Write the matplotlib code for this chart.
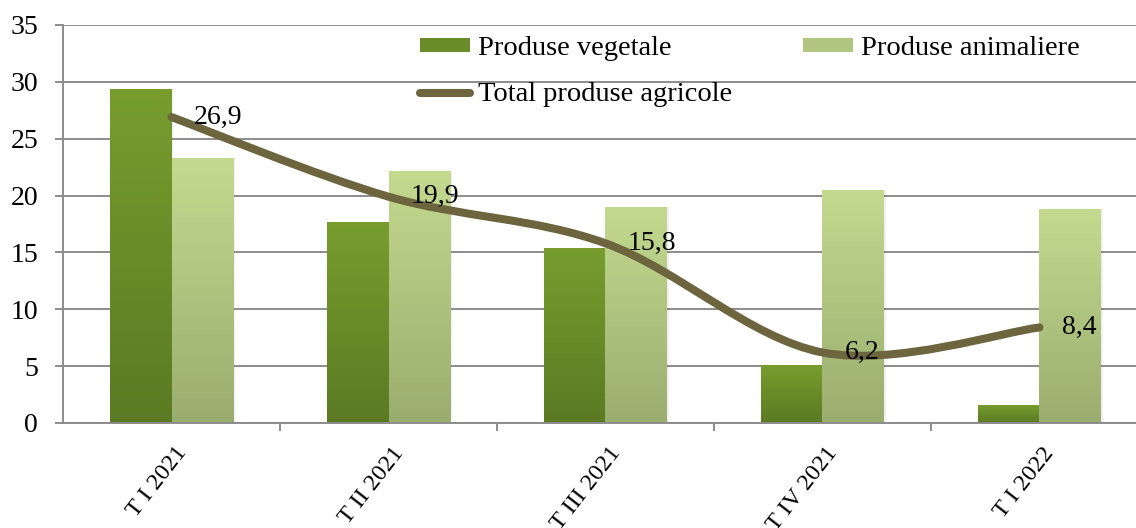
import numpy as np
import matplotlib
matplotlib.use("Agg")
import matplotlib.pyplot as plt
from matplotlib.path import Path
from matplotlib.patches import PathPatch, Rectangle, Patch
from matplotlib.lines import Line2D
from matplotlib.colors import LinearSegmentedColormap
import matplotlib.transforms as mtransforms

# ---------------- data ----------------
categorii = ["T I 2021", "T II 2021", "T III 2021", "T IV 2021", "T I 2022"]
vegetale = [29.4, 17.7, 15.4, 5.1, 1.6]
animaliere = [23.3, 22.2, 19.0, 20.5, 18.8]
total = [26.9, 19.9, 15.8, 6.2, 8.4]
etichete_total = ["26,9", "19,9", "15,8", "6,2", "8,4"]

# ---------------- style ----------------
FONT = "Liberation Serif"
plt.rcParams["font.family"] = FONT
GRID = "#8C8C8C"
LINE = "#6D653E"
BAR_W = 0.285

cmap_veg = LinearSegmentedColormap.from_list("veg", ["#5B7A23", "#789D2E"])
cmap_anim = LinearSegmentedColormap.from_list("anim", ["#9AAD6F", "#C3DA8F"])

fig = plt.figure(figsize=(11.36, 5.28), dpi=100)
ax = fig.add_axes([0.0555, 0.1989, 0.955, 0.7538])

x = np.arange(len(categorii))

# bars with vertical gradient
def gradient_bars(xpos, values, cmap):
    bars = ax.bar(xpos, values, width=BAR_W, align="edge",
                  facecolor="none", edgecolor="none", zorder=2)
    grad = np.linspace(0, 1, 256).reshape(-1, 1)
    for b in bars:
        x0, y0 = b.get_x(), b.get_y()
        w, h = b.get_width(), b.get_height()
        # light shadow to the right
        ax.add_patch(Rectangle((x0 + 0.006, y0), w, h, facecolor="#000000",
                               alpha=0.06, edgecolor="none", zorder=1.8))
        im = ax.imshow(grad, extent=[x0, x0 + w, y0, y0 + h], origin="lower",
                       cmap=cmap, aspect="auto", zorder=2.1)
        im.set_clip_path(b)
    return bars

gradient_bars(x - BAR_W, vegetale, cmap_veg)
gradient_bars(x, animaliere, cmap_anim)

# smoothed line (bezier, like spreadsheet "smoothed line")
pts = np.column_stack([x, total]).astype(float)
verts = [tuple(pts[0])]
codes = [Path.MOVETO]
n = len(pts)
for i in range(n - 1):
    p0 = pts[max(i - 1, 0)]
    p1 = pts[i]
    p2 = pts[i + 1]
    p3 = pts[min(i + 2, n - 1)]
    c1 = p1 + (p2 - p0) / 6.0
    c2 = p2 - (p3 - p1) / 6.0
    verts += [tuple(c1), tuple(c2), tuple(p2)]
    codes += [Path.CURVE4] * 3
ax.add_patch(PathPatch(Path(verts, codes), facecolor="none", edgecolor=LINE,
                       lw=5.8, capstyle="round", joinstyle="round", zorder=3))

for xi, yi, lab in zip(x, total, etichete_total):
    ax.annotate(lab, (xi, yi), xytext=(16, 0), textcoords="offset points",
                ha="left", va="center", fontsize=20, color="black", zorder=5)

# axes
ax.set_xlim(-0.5, len(categorii) - 0.5)
ax.set_ylim(0, 35)
ax.set_yticks(range(0, 36, 5))
ax.yaxis.grid(True, color=GRID, lw=1.4, zorder=0)
ax.set_axisbelow(True)
for s in ["top", "right"]:
    ax.spines[s].set_visible(False)
for s in ["left", "bottom"]:
    ax.spines[s].set_color(GRID)
    ax.spines[s].set_linewidth(1.4)

ax.tick_params(axis="y", length=6, width=1.4, color=GRID, labelsize=20, pad=12)
ax.set_xticks(x)
ax.set_xticklabels(categorii, rotation=52, ha="right", va="center",
                   rotation_mode="anchor", fontsize=17.5)
ax.tick_params(axis="x", which="major", length=0, pad=19)
ax.set_xticks(np.arange(0.5, len(categorii) - 0.5, 1), minor=True)
ax.tick_params(axis="x", which="minor", length=6, width=1.4, color=GRID)
offset = mtransforms.ScaledTranslation(8 / 72, 0, fig.dpi_scale_trans)
for lbl in ax.get_xticklabels():
    lbl.set_transform(lbl.get_transform() + offset)

# white box behind legend (hides gridlines)
ax.add_patch(Rectangle((378, 528 - 112), 800, 95, transform=None,
                       facecolor="white", edgecolor="none", zorder=0.5))

handles = [
    Patch(facecolor="#6A8C28", edgecolor="none"),
    Line2D([0], [0], color=LINE, lw=5.8, solid_capstyle="round"),
    Patch(facecolor="#B1C680", edgecolor="none"),
]
labels = ["Produse vegetale", "Total produse agricole", "Produse animaliere"]
leg = fig.legend(handles, labels, ncol=2, frameon=False, fontsize=20.5,
                 loc="upper left", bbox_to_anchor=(400 / 1136, 1 - 16 / 528),
                 handlelength=1.75, handleheight=0.4, handletextpad=0.28,
                 columnspacing=2.5, labelspacing=0.75, borderpad=0.2)

fig.savefig("out.png", dpi=100)
